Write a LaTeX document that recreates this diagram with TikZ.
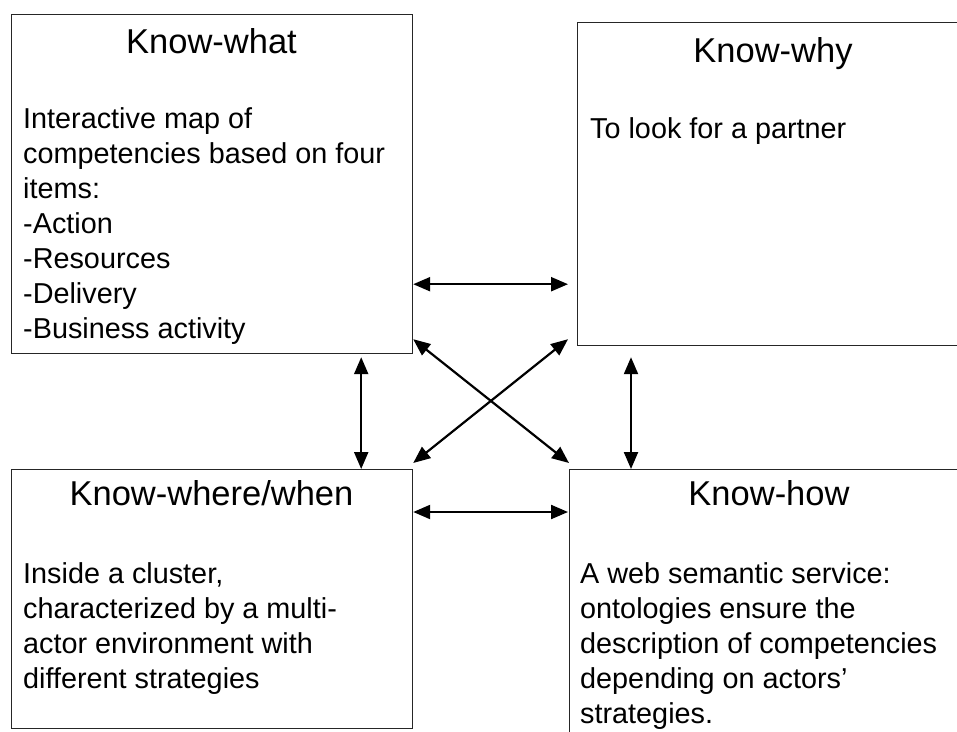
\documentclass[tikz,border=0pt]{standalone}
\usepackage{fontspec}
\setmainfont{Liberation Sans}
\usetikzlibrary{arrows.meta}
\tikzset{
  box/.style={draw=black!85, line width=1.2pt, anchor=north west, inner sep=0pt},
  head/.style={font=\fontsize{34.5}{40}\selectfont, anchor=base, inner sep=0pt},
  body/.style={font=\fontsize{28.8}{35}\selectfont, align=left, anchor=base west, inner sep=0pt},
  link/.style={{Triangle[length=17pt,width=14pt]}-{Triangle[length=17pt,width=14pt]}, line width=2.2pt}
}
\begin{document}
\begin{tikzpicture}[x=1pt, y=-1pt]
        \useasboundingbox (0, 0) rectangle (957, 731);

        % Quattro riquadri
        \node[box, minimum width=401pt, minimum height=339pt] (what) at (11, 14) {};
        \node[box, minimum width=392pt, minimum height=323pt] (why) at (577, 22) {};
        \node[box, minimum width=401pt, minimum height=259pt] (where) at (11, 469) {};
        \node[box, minimum width=400pt, minimum height=300pt] (how) at (569, 469) {};

        % Titoli
        \node[head] (whathead) at (211.5, 53) {Know-what};
        \node[head] (whyhead) at (773, 62) {Know-why};
        \node[head] (wherehead) at (211.5, 505) {Know-where/when};
        \node[head] (howhead) at (769, 505) {Know-how};

        % Testi (ancorati all'ultima riga)
        \node[body] (whattext) at (23, 338) {Interactive map of\\competencies based on four\\items:\\-Action\\-Resources\\-Delivery\\-Business activity};
        \node[body] (whytext) at (590, 138) {To look for a partner};
        \node[body] (wheretext) at (23, 688) {Inside a cluster,\\characterized by a multi-\\actor environment with\\different strategies};
        \node[body] (howtext) at (580, 723) {A web semantic service:\\ontologies ensure the\\description of competencies\\depending on actors’\\strategies.};

        % Frecce orizzontali
        \draw[link, shorten >=9pt] ([yshift=70pt]what.south east) coordinate (h1) -- (h1 -| why.west);
        \draw[link, shorten >=1pt] ([yshift=-43pt]where.north east) coordinate (h2) -- (h2 -| how.west);

        % Frecce verticali
        \draw[link, shorten <=3pt] ([xshift=-52pt]what.south east) coordinate (v1) -- (v1 |- where.north);
        \draw[link, shorten <=11pt] ([xshift=54pt]why.south west) coordinate (v2) -- (v2 |- how.north);

        % Frecce diagonali
        \draw[link] ([yshift=15pt]what.south east) -- ([yshift=6pt]how.north west);
        \draw[link] ([shift={(-9pt,7pt)}]why.south west) -- ([yshift=6pt]where.north east);

    \end{tikzpicture}
\end{document}
